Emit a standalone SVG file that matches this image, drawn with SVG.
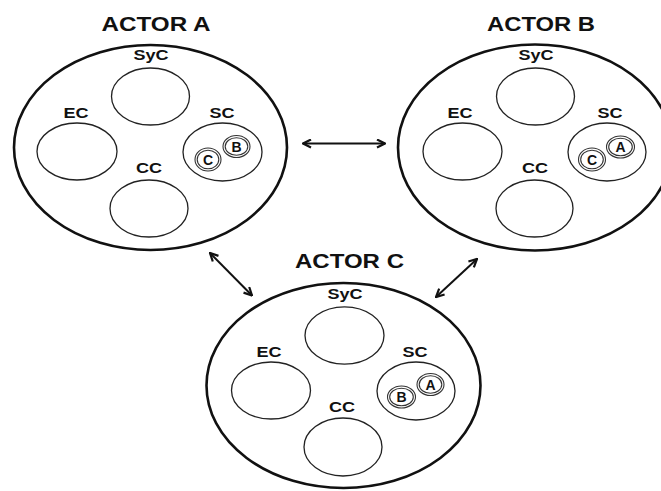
<svg xmlns="http://www.w3.org/2000/svg" width="661" height="491" viewBox="0 0 661 491">
<defs>
<style>
.big{fill:none;stroke:#111;stroke-width:2.6}
.in{fill:none;stroke:#222;stroke-width:1.3}
.sm{fill:none;stroke:#333;stroke-width:1.1}
.t{font-family:"Liberation Sans",Arial,sans-serif;font-weight:bold;fill:#111;text-anchor:middle}
.lbl{font-size:14px}
.title{font-size:19.5px}
.sl{font-size:14px}
.con{fill:none;stroke:#111;stroke-width:2;marker-start:url(#ah);marker-end:url(#ah)}
</style>
<marker id="ah" viewBox="0 0 10 10" refX="9" refY="5" markerWidth="5" markerHeight="5" orient="auto-start-reverse" markerUnits="strokeWidth">
<path d="M1,1 L9,5 L1,9" fill="none" stroke="#111" stroke-width="2.2"/>
</marker>
</defs>
<rect width="661" height="491" fill="#fff"/>

<g id="actorA">
<text class="t title" x="156" y="31" textLength="109" lengthAdjust="spacingAndGlyphs">ACTOR A</text>
<ellipse class="big" cx="150.5" cy="147.5" rx="136.5" ry="102.5"/>
<text class="t lbl" x="151" y="60" textLength="35" lengthAdjust="spacingAndGlyphs">SyC</text>
<ellipse class="in" cx="150.5" cy="96.5" rx="39" ry="28.5"/>
<text class="t lbl" x="76" y="118" textLength="25" lengthAdjust="spacingAndGlyphs">EC</text>
<ellipse class="in" cx="77" cy="151.5" rx="40" ry="28.5"/>
<text class="t lbl" x="222" y="118" textLength="25" lengthAdjust="spacingAndGlyphs">SC</text>
<ellipse class="in" cx="222.5" cy="152" rx="39.5" ry="29"/>
<text class="t lbl" x="149" y="173" textLength="26" lengthAdjust="spacingAndGlyphs">CC</text>
<ellipse class="in" cx="149" cy="208.5" rx="39" ry="28.5"/>
<ellipse class="sm" cx="208" cy="159.5" rx="13" ry="11.5"/>
<ellipse class="sm" cx="208" cy="159.5" rx="10.8" ry="9.3"/>
<text class="t sl" x="208" y="164.5">C</text>
<ellipse class="sm" cx="236.5" cy="146.5" rx="13.5" ry="11"/>
<ellipse class="sm" cx="236.5" cy="146.5" rx="11.3" ry="8.8"/>
<text class="t sl" x="236.5" y="151.5">B</text>
</g>

<g id="actorB">
<text class="t title" x="541" y="31" textLength="108" lengthAdjust="spacingAndGlyphs">ACTOR B</text>
<ellipse class="big" cx="535" cy="147.5" rx="137" ry="103"/>
<text class="t lbl" x="536" y="60" textLength="35" lengthAdjust="spacingAndGlyphs">SyC</text>
<ellipse class="in" cx="535.5" cy="96.5" rx="39" ry="28.5"/>
<text class="t lbl" x="460" y="118" textLength="25" lengthAdjust="spacingAndGlyphs">EC</text>
<ellipse class="in" cx="462.5" cy="151.5" rx="39.5" ry="28.5"/>
<text class="t lbl" x="610" y="118" textLength="25" lengthAdjust="spacingAndGlyphs">SC</text>
<ellipse class="in" cx="607" cy="152" rx="39" ry="29"/>
<text class="t lbl" x="535" y="173" textLength="26" lengthAdjust="spacingAndGlyphs">CC</text>
<ellipse class="in" cx="534.5" cy="208.5" rx="38.5" ry="28.5"/>
<ellipse class="sm" cx="592" cy="159.5" rx="13.5" ry="11.5"/>
<ellipse class="sm" cx="592" cy="159.5" rx="11.3" ry="9.3"/>
<text class="t sl" x="592" y="164.5">C</text>
<ellipse class="sm" cx="620.5" cy="147" rx="14" ry="11"/>
<ellipse class="sm" cx="620.5" cy="147" rx="11.8" ry="8.8"/>
<text class="t sl" x="620.5" y="152">A</text>
</g>

<g id="actorC">
<text class="t title" x="349.5" y="268" textLength="109" lengthAdjust="spacingAndGlyphs">ACTOR C</text>
<ellipse class="big" cx="343.5" cy="385.5" rx="137" ry="102.5"/>
<text class="t lbl" x="345" y="299" textLength="35" lengthAdjust="spacingAndGlyphs">SyC</text>
<ellipse class="in" cx="344.5" cy="335.5" rx="39.5" ry="28.7"/>
<text class="t lbl" x="269" y="357" textLength="25" lengthAdjust="spacingAndGlyphs">EC</text>
<ellipse class="in" cx="271" cy="390.5" rx="39.5" ry="28.5"/>
<text class="t lbl" x="415" y="357" textLength="25" lengthAdjust="spacingAndGlyphs">SC</text>
<ellipse class="in" cx="416" cy="391" rx="39" ry="29"/>
<text class="t lbl" x="342" y="412" textLength="26" lengthAdjust="spacingAndGlyphs">CC</text>
<ellipse class="in" cx="343" cy="447" rx="39" ry="29"/>
<ellipse class="sm" cx="401.5" cy="397" rx="14" ry="11"/>
<ellipse class="sm" cx="401.5" cy="397" rx="11.8" ry="8.8"/>
<text class="t sl" x="401.5" y="402">B</text>
<ellipse class="sm" cx="430.5" cy="384.5" rx="13.5" ry="11"/>
<ellipse class="sm" cx="430.5" cy="384.5" rx="11.3" ry="8.8"/>
<text class="t sl" x="430.5" y="389.5">A</text>
</g>

<g id="connectors">
<line class="con" x1="303" y1="143.5" x2="385" y2="143.5"/>
<line class="con" x1="210" y1="253" x2="252" y2="295.5"/>
<line class="con" x1="477" y1="259" x2="436" y2="297"/>
</g>
</svg>
